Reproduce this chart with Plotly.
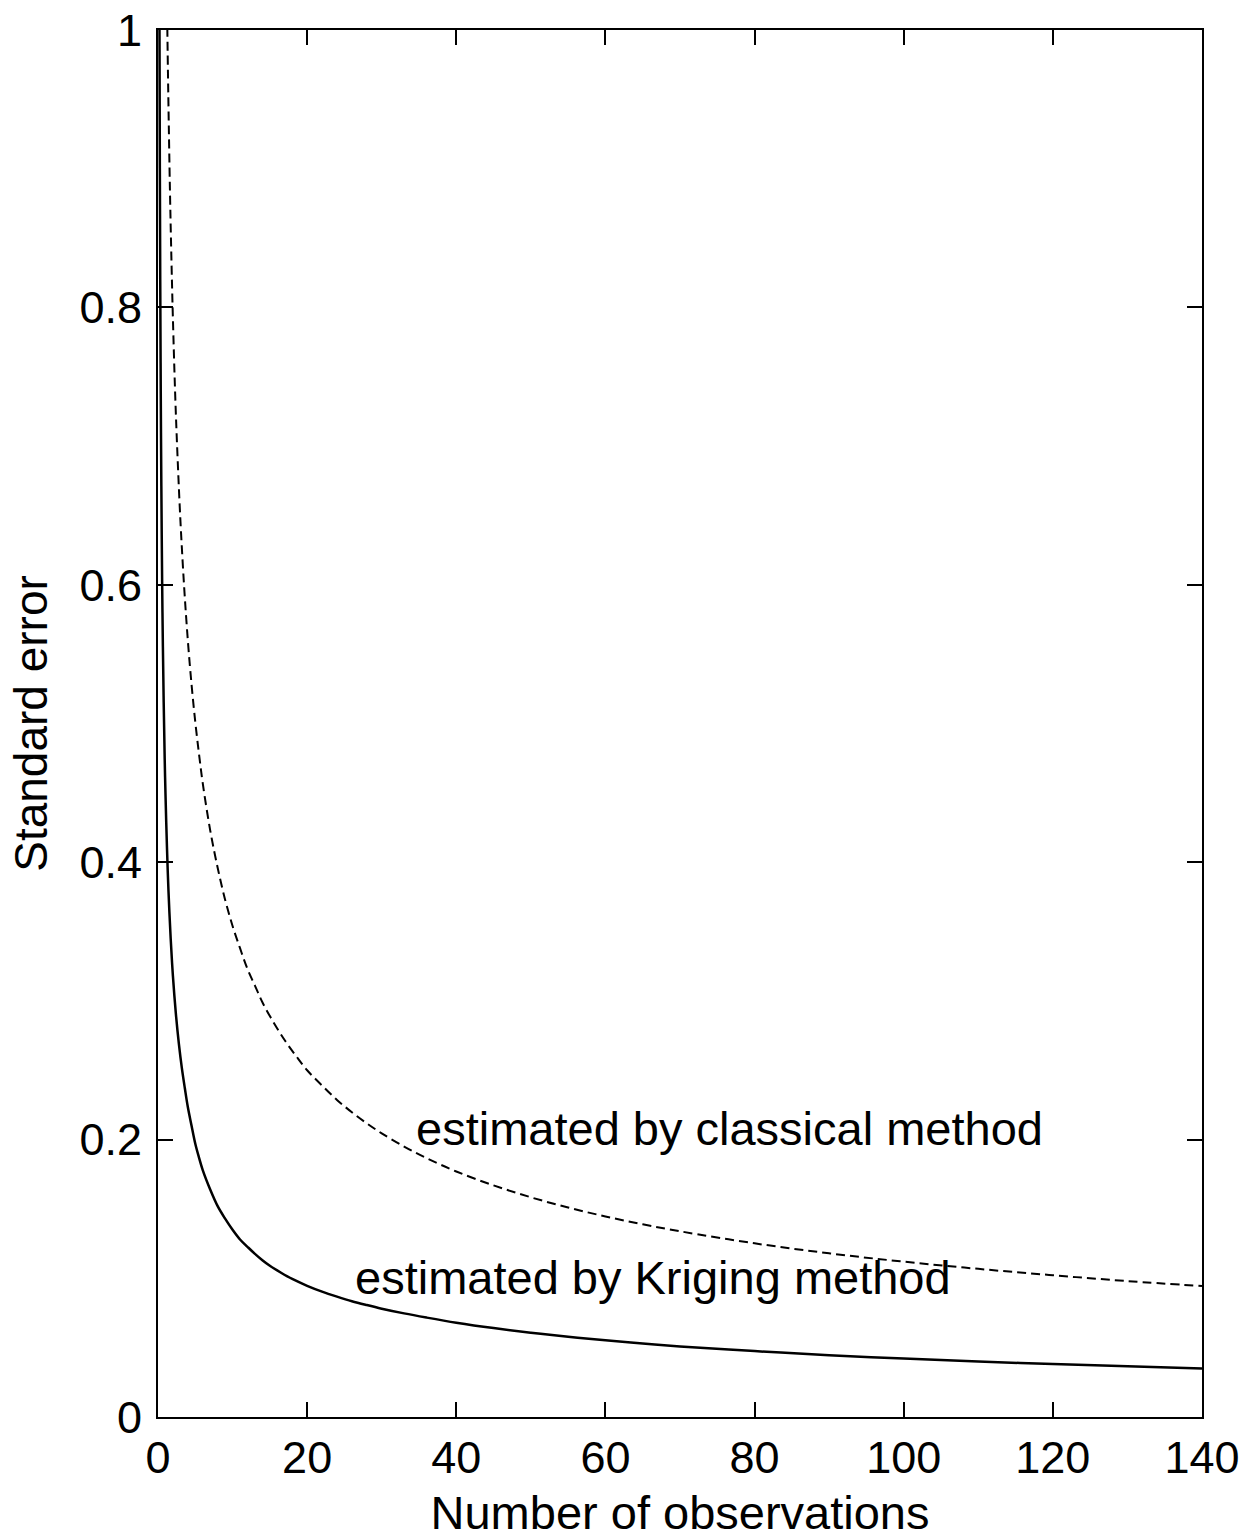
import plotly.graph_objects as go

# Values
classical_n = [1.2, 1.3, 1.4, 1.6, 1.8, 2.0, 2.3, 2.6, 3.0, 3.5, 4, 4.5, 5, 5.5, 6, 7, 8, 9, 10,
               11, 12, 13, 14, 15.5, 17, 18.5, 20, 22, 24, 26, 28, 30, 33, 36, 40, 45, 50, 55,
               60, 65, 70, 80, 90, 100, 110, 120, 130, 140]
classical_se = [1.022, 0.982, 0.947, 0.885, 0.835, 0.792, 0.738, 0.695, 0.647, 0.599, 0.560,
                0.528, 0.501, 0.478, 0.457, 0.423, 0.396, 0.373, 0.354, 0.338, 0.323, 0.311,
                0.299, 0.2845, 0.2716, 0.2604, 0.250, 0.239, 0.2286, 0.2197, 0.2117, 0.2045,
                0.195, 0.1867, 0.177, 0.167, 0.1584, 0.151, 0.1446, 0.1389, 0.1339, 0.1252,
                0.118, 0.112, 0.1068, 0.1022, 0.098, 0.0944]

kriging_n = [0.2, 0.25, 0.3, 0.35, 0.4, 0.5, 0.6, 0.75, 0.9, 1.0, 1.2, 1.4, 1.7, 2.0, 2.4, 2.8,
             3.2, 3.6, 4.0, 4.5, 5, 5.5, 6, 7, 8, 9, 10, 11, 12, 13, 14, 15, 16.5, 18, 20, 22,
             24, 26, 28, 30, 33, 36, 40, 45, 50, 55, 60, 65, 70, 80, 90, 100, 110, 120, 130, 140]
kriging_se = [1.0, 0.90, 0.82, 0.76, 0.71, 0.636, 0.58, 0.52, 0.474, 0.45, 0.411, 0.38, 0.345,
              0.318, 0.2905, 0.269, 0.2515, 0.237, 0.2235, 0.21, 0.197, 0.187, 0.178, 0.164,
              0.152, 0.143, 0.135, 0.128, 0.1227, 0.1176, 0.113, 0.109, 0.104, 0.0995, 0.0946,
              0.0904, 0.0868, 0.0835, 0.0807, 0.0781, 0.0747, 0.0717, 0.068, 0.0641, 0.0608,
              0.0578, 0.0553, 0.053, 0.0509, 0.0475, 0.0446, 0.0421, 0.040, 0.0382, 0.0365,
              0.035]

x_ticks = [0, 20, 40, 60, 80, 100, 120, 140]
y_ticks = [0, 0.2, 0.4, 0.6, 0.8, 1]
y_tick_text = ["0", "0.2", "0.4", "0.6", "0.8", "1"]

labels = ["estimated by classical method", "estimated by Kriging method"]
label_x = [76.7, 66.4]
label_y = [0.208, 0.1006]

FONT = "Liberation Sans, Arial, sans-serif"

fig = go.Figure()
fig.add_trace(go.Scatter(x=classical_n, y=classical_se, mode="lines",
                         line=dict(color="black", width=2, dash="9px,5px", shape="spline"),
                         showlegend=False))
fig.add_trace(go.Scatter(x=kriging_n, y=kriging_se, mode="lines",
                         line=dict(color="black", width=2.5, shape="spline"),
                         showlegend=False))

for t, xx, yy in zip(labels, label_x, label_y):
    fig.add_annotation(x=xx, y=yy, text=t, showarrow=False, xanchor="center", yanchor="middle",
                       font=dict(family=FONT, size=47, color="black"))

axis_common = dict(showgrid=False, zeroline=False, showline=True, linecolor="black",
                   linewidth=2, mirror="ticks", ticks="inside", ticklen=15, tickwidth=1.5,
                   tickcolor="black", tickfont=dict(family=FONT, size=45, color="black"),
                   ticklabeloverflow="allow")

fig.update_xaxes(range=[0, 140], tickvals=x_ticks, ticktext=[str(v) for v in x_ticks],
                 title=dict(text="Number of observations", font=dict(family=FONT, size=47, color="black"),
                            standoff=14),
                 **axis_common)
fig.update_yaxes(range=[0, 1], tickvals=y_ticks, ticktext=y_tick_text, ticklabelstandoff=5,
                 title=dict(text="Standard error", font=dict(family=FONT, size=46, color="black"),
                            standoff=17),
                 **axis_common)

fig.update_layout(width=1248, height=1540, plot_bgcolor="white", paper_bgcolor="white",
                  margin=dict(l=158, r=46, t=30, b=123, autoexpand=False),
                  font=dict(family=FONT, color="black"))

fig.write_html("out.html", config={"displayModeBar": False},
               post_script="document.body.style.margin='0px';")
